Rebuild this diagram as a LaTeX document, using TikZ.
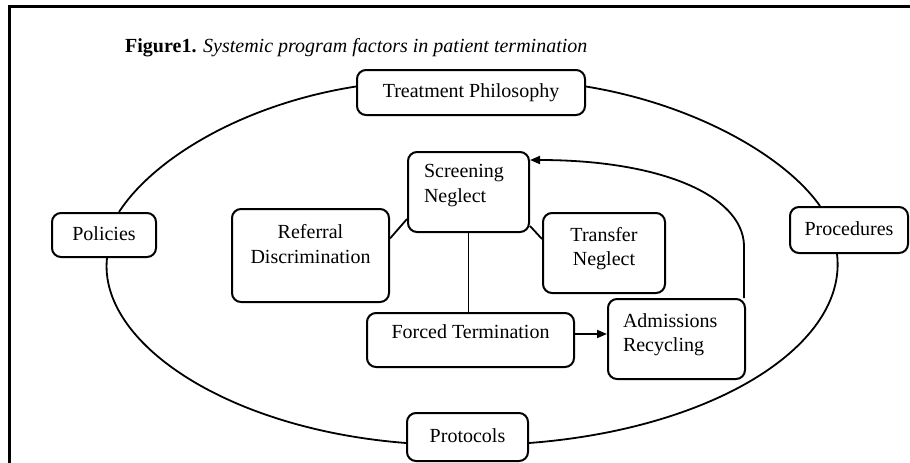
\documentclass[tikz,border=0pt]{standalone}
\usepackage{fontspec}
\setmainfont{Liberation Serif}
\usetikzlibrary{arrows.meta}
\newcommand\fs{\fontsize{20}{24.5}\selectfont}
\newcommand\tbx[5]{\parbox[t][#2][t]{#1}{\vspace*{#3}#4#5\par}}
\begin{document}
\begin{tikzpicture}[x=1pt,y=-1pt,
  box/.style={draw, rounded corners=9pt, line width=2pt, inner sep=0pt, font=\fs},
  one/.style={box, text height=14pt, text depth=4pt},
  conn/.style={line width=1.8pt},
  arr/.style={conn, -{Triangle[length=10pt,width=8pt]}}]
\useasboundingbox (0,0) rectangle (910,463);
\draw[line width=3pt] (9.5,463) -- (9.5,6.5) -- (910,6.5);
\node[anchor=base west, font=\fs, inner sep=0pt] (title) at (125,52)
  {\textbf{Figure1.} \textit{Systemic program factors in patient termination}};
% outer nodes
\node[one, minimum width=228pt, minimum height=45pt] (tp) at (471,92.5) {Treatment Philosophy};
\node[one, minimum width=104pt, minimum height=44pt] (pol) at (104,235) {Policies};
\node[one, minimum width=118pt, minimum height=46pt] (pr) at (849,230) {Procedures};
\node[one, minimum width=121pt, minimum height=48pt] (pt) at (467.5,437) {Protocols};
% inner nodes
\node[box, anchor=north west] (sn) at (407,151)
  {\tbx{121pt}{80pt}{12.5pt}{\raggedright\leftskip=16pt\relax}{Screening\\Neglect}};
\node[box, anchor=north west] (rd) at (231,208)
  {\tbx{157pt}{93pt}{15.5pt}{\centering}{Referral\\Discrimination}};
\node[box, anchor=north west] (tn) at (542,212)
  {\tbx{122pt}{80pt}{14pt}{\centering}{Transfer\\Neglect}};
\node[box, anchor=north west] (ar) at (607,298)
  {\tbx{137pt}{80pt}{14.5pt}{\raggedright\leftskip=15pt\relax}{Admissions\\Recycling}};
\node[box, anchor=north west] (ft) at (366,312)
  {\tbx{207pt}{54pt}{11.5pt}{\centering}{Forced Termination}};
% ellipse arcs
\draw[conn] ([yshift=6pt]tp.west) .. controls (244,104) and (154,158) .. ([xshift=15pt]pol.north);
\draw[conn] ([yshift=6pt]tp.east) .. controls (693,104) and (784,155) .. ([xshift=-29pt]pr.north);
\draw[conn] ([xshift=-12pt]pr.south) .. controls (848,345) and (714,429) .. ([yshift=-6pt]pt.east);
\draw[conn] ([xshift=3pt]pol.south) .. controls (98,342) and (226,429) .. ([yshift=-6pt]pt.west);
% inner connectors
\draw[conn] (sn.south) -- (sn.south |- ft.north);
\draw[conn] ([yshift=-27pt]sn.west) -- ([yshift=17pt]rd.east);
\draw[conn] ([yshift=-34pt]sn.east) -- ([yshift=14pt]tn.west);
\draw[arr] ([yshift=6pt]ft.east) -- ([yshift=6pt]ft.east -| ar.west);
\draw[arr] ([xshift=-2pt]ar.north east) -- ++(0,-53) .. controls (742,195) and (660,160) .. ([yshift=32pt]sn.east);
\end{tikzpicture}
\end{document}
